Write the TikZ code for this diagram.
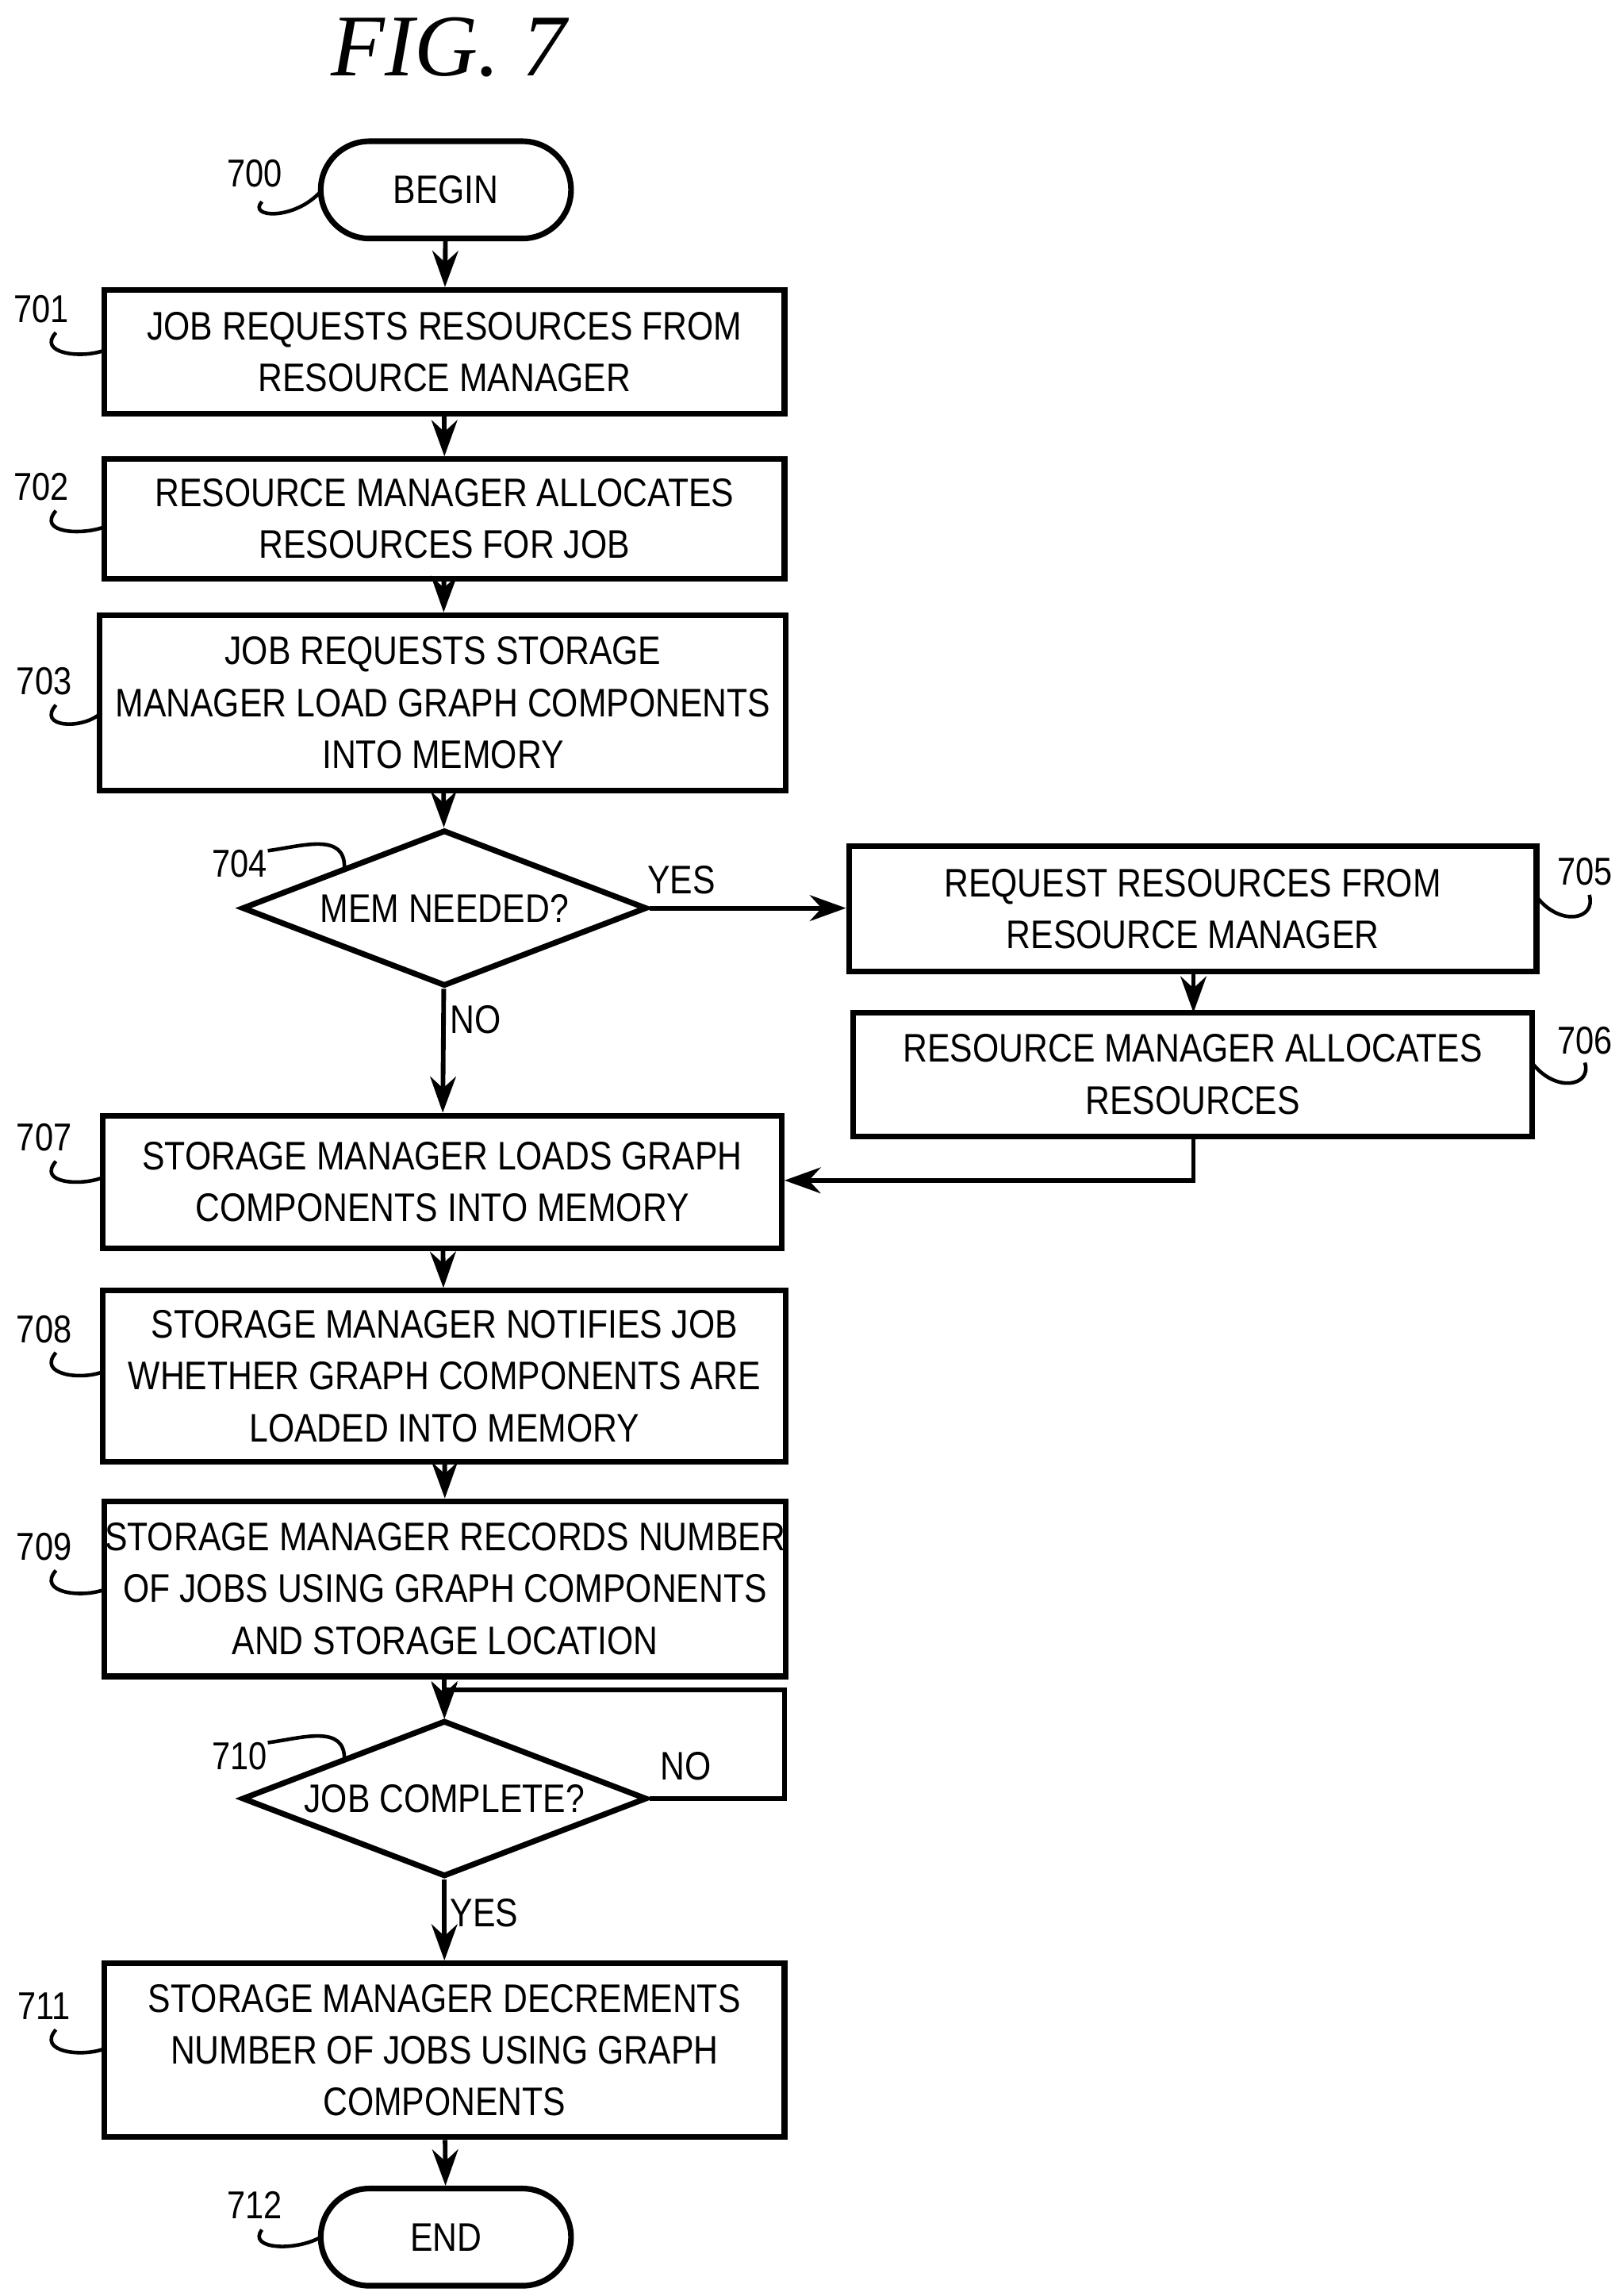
\documentclass[tikz,border=0pt]{standalone}
\usepackage{fontspec}
\setmainfont[FakeStretch=0.85]{Liberation Sans}
\newfontfamily\figfont{Liberation Serif}
\usetikzlibrary{shapes.geometric,arrows.meta}
\begin{document}
\begin{tikzpicture}[x=0.01cm,y=-0.01cm,
  box/.style={draw,line width=1.1pt,align=center,inner sep=0pt,font=\fontsize{7.7}{10}\selectfont},
  lab/.style={font=\fontsize{7.7}{10}\selectfont},
  num/.style={font=\fontsize{7.5}{10}\selectfont},
  arr/.style={line width=0.9pt,-{Stealth[length=7pt,width=5pt]}},
  sq/.style={line width=0.7pt}]
\useasboundingbox (0,0) rectangle (1100,1560);
\node[font=\figfont\itshape\fontsize{17}{20}\selectfont] (fig) at (305,32) {FIG. 7};
\newcommand\mybox[6]{\node[box,minimum width={(#4-#3)*0.1mm},minimum height={(#6-#5)*0.1mm}] (#1) at ({(#3+#4)/2},{(#5+#6)/2}) {#2};}
\node[box,rounded corners=0.33cm,minimum width=1.7cm,minimum height=0.66cm] (b) at (303,129) {BEGIN};
\mybox{n701}{JOB REQUESTS RESOURCES FROM\\RESOURCE MANAGER}{71}{533}{197}{281}
\mybox{n702}{RESOURCE MANAGER ALLOCATES\\RESOURCES FOR JOB}{71}{533}{312}{393}
\mybox{n703}{JOB REQUESTS STORAGE\\MANAGER LOAD GRAPH COMPONENTS\\INTO MEMORY}{68}{534}{418}{537}
\mybox{n705}{REQUEST RESOURCES FROM\\RESOURCE MANAGER}{577}{1044}{575}{660}
\mybox{n706}{RESOURCE MANAGER ALLOCATES\\RESOURCES}{580}{1041}{688}{772}
\mybox{n707}{STORAGE MANAGER LOADS GRAPH\\COMPONENTS INTO MEMORY}{70}{531}{758}{848}
\mybox{n708}{STORAGE MANAGER NOTIFIES JOB\\WHETHER GRAPH COMPONENTS ARE\\LOADED INTO MEMORY}{70}{534}{877}{993}
\mybox{n709}{STORAGE MANAGER RECORDS NUMBER\\OF JOBS USING GRAPH COMPONENTS\\AND STORAGE LOCATION}{71}{534}{1020}{1139}
\mybox{n711}{STORAGE MANAGER DECREMENTS\\NUMBER OF JOBS USING GRAPH\\COMPONENTS}{71}{533}{1334}{1452}
\node[box,rounded corners=0.33cm,minimum width=1.7cm,minimum height=0.66cm] (e) at (303,1520) {END};
\node[box,diamond,aspect=2.6,minimum width=2.75cm,minimum height=1.06cm] (d4) at (302,617) {MEM NEEDED?};
\node[box,diamond,aspect=2.6,minimum width=2.75cm,minimum height=1.06cm] (d10) at (302,1222) {JOB COMPLETE?};
\draw[arr] (b) -- (n701);
\draw[arr] (n701) -- (n702);
\draw[arr] (n702) -- (n703);
\draw[arr] (n703) -- (d4);
\draw[arr] (d4.east) -- (n705.west|-d4.east);
\draw[arr] (n705.south-|811,0) -- (811,688);
\draw[arr] (d4) -- (n707);
\draw[arr] (811,772) |- (n707.east|-0,802);
\draw[arr] (n707) -- (n708);
\draw[arr] (n708) -- (n709);
\coordinate (j) at (302,1148);
\draw[arr] (n709.south-|j) -- (d10.north);
\draw[arr] (d10.east) -- (533,1222) -- (533,1148) -- (j) -- (302,1168);
\draw[arr] (d10) -- (n711);
\draw[arr] (n711) -- (e);
\node[lab] (y1) at (463,598) {YES};
\node[lab] (no1) at (323,693) {NO};
\node[lab] (no2) at (466,1200) {NO};
\node[lab] (y2) at (329,1300) {YES};
\node[num] (t700) at (173,118) {700};
\node[num] (t701) at (28,210) {701};
\node[num] (t702) at (28,331) {702};
\node[num] (t703) at (30,463) {703};
\node[num] (t704) at (163,587) {704};
\node[num] (t705) at (1077,592) {705};
\node[num] (t706) at (1077,707) {706};
\node[num] (t707) at (30,773) {707};
\node[num] (t708) at (30,903) {708};
\node[num] (t709) at (30,1051) {709};
\node[num] (t710) at (163,1193) {710};
\node[num] (t711) at (30,1363) {711};
\node[num] (t712) at (173,1498) {712};
\draw[sq] (178,137) .. controls (168,148) and (200,150) .. (218,130);
\draw[sq] (38,226) .. controls (25,240) and (55,244) .. (71,238);
\draw[sq] (38,347) .. controls (25,362) and (55,364) .. (71,358);
\draw[sq] (38,479) .. controls (25,494) and (55,496) .. (68,485);
\draw[sq] (182,578) .. controls (205,575) and (235,565) .. (234,590);
\draw[sq] (1044,609) .. controls (1060,630) and (1085,625) .. (1080,608);
\draw[sq] (1041,722) .. controls (1057,743) and (1082,738) .. (1077,722);
\draw[sq] (38,789) .. controls (25,804) and (55,806) .. (70,800);
\draw[sq] (38,919) .. controls (25,934) and (55,938) .. (70,932);
\draw[sq] (38,1067) .. controls (25,1082) and (55,1086) .. (71,1080);
\draw[sq] (182,1184) .. controls (205,1181) and (235,1171) .. (234,1196);
\draw[sq] (38,1379) .. controls (25,1394) and (55,1398) .. (71,1392);
\draw[sq] (178,1515) .. controls (168,1528) and (200,1530) .. (218,1520);
\end{tikzpicture}
\end{document}
